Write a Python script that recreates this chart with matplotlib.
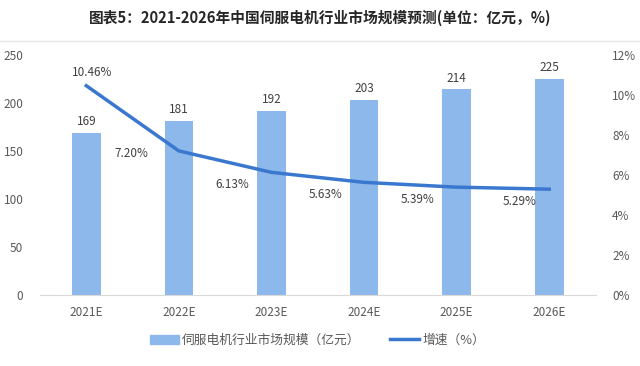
import matplotlib.pyplot as plt
from matplotlib.lines import Line2D
from matplotlib.patches import Patch
from matplotlib.ticker import FuncFormatter

plt.rcParams['font.family'] = ['Noto Sans CJK SC', 'DejaVu Sans']

years = ['2021E', '2022E', '2023E', '2024E', '2025E', '2026E']
market_size = [169, 181, 192, 203, 214, 225]
growth = [10.46, 7.20, 6.13, 5.63, 5.39, 5.29]

bar_color = '#8db8ec'
line_color = '#3a78d0'
text_color = '#595959'

fig = plt.figure(figsize=(6.4, 3.66), dpi=100)
ax = fig.add_axes([0.0625, 0.194, 0.868, 0.656])
ax2 = ax.twinx()

x = list(range(len(years)))
ax.bar(x, market_size, width=0.31, color=bar_color, zorder=2)
for xi, v in zip(x, market_size):
    ax.text(xi, v + 5, str(v), ha='center', va='bottom', fontsize=8.5,
            color='#404040')

ax2.plot(x, growth, color=line_color, linewidth=2.5, zorder=3)
# label offsets (points)
offsets = [(4, 5), (-34, -2), (-28, -4), (-28, -4), (-28, -4), (-21, -4)]
for i, (xi, g) in enumerate(zip(x, growth)):
    label = '%.2f%%' % g
    va = 'bottom' if i == 0 else ('center' if i == 1 else 'top')
    ax2.annotate(label, (xi, g), xytext=offsets[i], textcoords='offset points',
                 ha='center', va=va, fontsize=8.5, color='#404040')

ax.set_xlim(-0.5, 5.5)
ax.set_ylim(0, 250)
ax.set_yticks(range(0, 251, 50))
ax2.set_ylim(0, 12)
ax2.set_yticks(range(0, 13, 2))
ax2.yaxis.set_major_formatter(FuncFormatter(lambda v, p: '%d%%' % v))

ax.set_xticks(x)
ax.set_xticklabels(years)
for a in (ax, ax2):
    for s in a.spines.values():
        s.set_visible(False)
    a.tick_params(length=0, labelsize=8.5, labelcolor=text_color)
ax.spines['bottom'].set_visible(True)
ax.spines['bottom'].set_color('#d9d9d9')
ax.tick_params(axis='x', pad=8)
ax.tick_params(axis='y', pad=12)
ax2.tick_params(axis='y', pad=12)

fig.text(0.5, 0.95, '图表5：2021-2026年中国伺服电机行业市场规模预测(单位：亿元，%)',
         ha='center', va='center', fontsize=10.6, fontweight='bold',
         color='#262626')
fig.add_artist(Line2D([0, 1], [1 - 41 / 366, 1 - 41 / 366],
                      color='#e6e6e6', linewidth=1))

handles = [Patch(color=bar_color), Line2D([], [], color=line_color, linewidth=2.5)]
fig.legend(handles, ['伺服电机行业市场规模（亿元）', '增速（%）'],
           loc='center', bbox_to_anchor=(0.496, 0.07), ncol=2, frameon=False,
           fontsize=9.2, handlelength=2.3, handletextpad=0.25, columnspacing=2.3,
           labelcolor=text_color)

fig.savefig('out.png', dpi=100)
